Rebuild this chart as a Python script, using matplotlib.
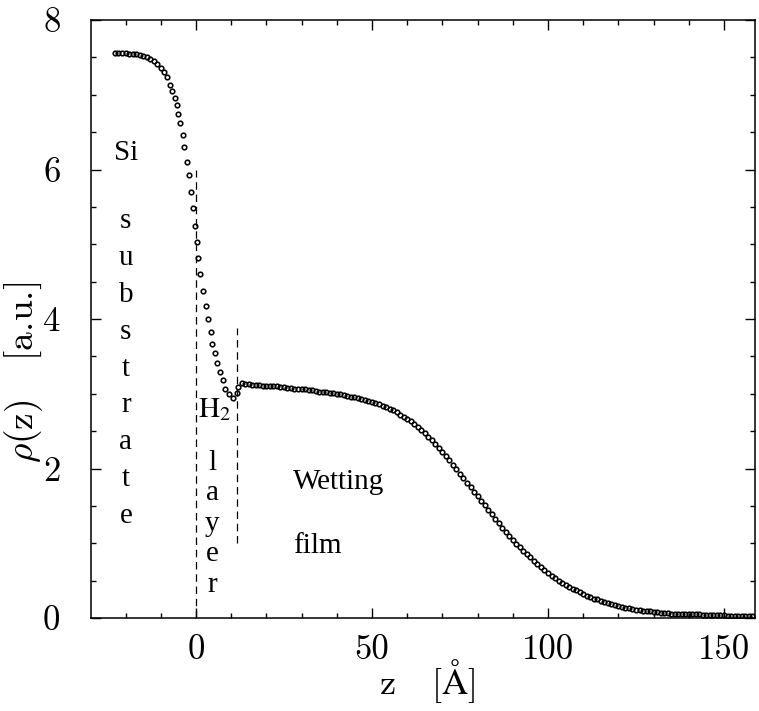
import matplotlib
matplotlib.use("Agg")
import matplotlib.pyplot as plt
from matplotlib.ticker import MultipleLocator

plt.rcParams['font.family'] = 'cmr10'
plt.rcParams['axes.unicode_minus'] = False
plt.rcParams['mathtext.fontset'] = 'cm'

# density profile rho(z): Si substrate plateau
z_si = [-23, -22, -21, -20, -19, -18, -17, -16, -15, -14, -13, -12, -11, -10, -9]
rho_si = [7.56, 7.56, 7.56, 7.56, 7.55, 7.55, 7.54, 7.53, 7.52, 7.50, 7.48, 7.45, 7.41, 7.36, 7.30]

# steep drop through the interface and the first H2 layer
z_h2 = [-8.2, -7.4, -6.9, -6.0, -5.5, -5.2, -4.5, -3.8, -3.3, -2.6, -2.0, -1.4, -0.9, -0.3,
        0.4, 0.7, 1.3, 2.1, 2.8, 3.5, 4.2, 4.7, 5.4, 6.0, 6.8, 7.6, 8.4, 9.5, 10.6, 11.6, 12.0, 13.0]
rho_h2 = [7.24, 7.13, 7.05, 6.96, 6.86, 6.74, 6.62, 6.46, 6.30, 6.10, 5.92, 5.70, 5.49, 5.25,
          5.03, 4.81, 4.60, 4.38, 4.18, 4.00, 3.83, 3.67, 3.54, 3.41, 3.29, 3.18, 3.07, 2.99, 2.94, 3.01, 3.09, 3.14]

# wetting film, one point per Angstrom from 14 to 158
z_film = list(range(14, 159))
rho_film = [
    3.13, 3.13, 3.12, 3.12, 3.12, 3.11, 3.11, 3.11, 3.10, 3.10,
    3.09, 3.09, 3.08, 3.08, 3.07, 3.07, 3.06, 3.06, 3.05, 3.05,
    3.04, 3.03, 3.03, 3.02, 3.01, 3.01, 3.00, 2.99, 2.98, 2.97,
    2.96, 2.95, 2.94, 2.93, 2.92, 2.90, 2.89, 2.87, 2.86, 2.84,
    2.82, 2.80, 2.78, 2.75, 2.72, 2.69, 2.66, 2.63, 2.59, 2.55,
    2.51, 2.47, 2.42, 2.38, 2.33, 2.28, 2.22, 2.17, 2.11, 2.05,
    1.99, 1.93, 1.87, 1.81, 1.75, 1.69, 1.63, 1.57, 1.51, 1.45,
    1.39, 1.33, 1.27, 1.21, 1.15, 1.10, 1.05, 0.99, 0.95, 0.90,
    0.85, 0.81, 0.76, 0.72, 0.68, 0.64, 0.60, 0.56, 0.53, 0.50,
    0.47, 0.44, 0.42, 0.39, 0.37, 0.35, 0.32, 0.30, 0.28, 0.26,
    0.25, 0.23, 0.22, 0.20, 0.19, 0.18, 0.16, 0.15, 0.14, 0.13,
    0.12, 0.11, 0.11, 0.10, 0.09, 0.09, 0.08, 0.08, 0.07, 0.07,
    0.07, 0.06, 0.06, 0.06, 0.06, 0.05, 0.05, 0.05, 0.05, 0.05,
    0.04, 0.04, 0.04, 0.04, 0.04, 0.04, 0.04, 0.03, 0.03, 0.03,
    0.03, 0.03, 0.03, 0.03, 0.03,
]

# dashed lines bounding the first H2 layer
layer_z = [0.0, 11.8]
layer_bottom = [0.0, 1.0]
layer_top = [6.0, 3.88]

z = z_si + z_h2 + z_film
rho = rho_si + rho_h2 + rho_film

fig = plt.figure(figsize=(7.59, 7.11), dpi=100)
ax = fig.add_axes([91 / 759, 93 / 711, 664 / 759, 598 / 711])

ax.plot(z, rho, ls='none', marker='o', ms=3.3, mew=1.15, mfc='none', mec='black')
ax.vlines(layer_z, layer_bottom, layer_top, colors='black', lw=0.9,
          linestyles=[(0, (6, 3.8))])

ax.set_xlim(-29.8, 158.8)
ax.set_ylim(0, 8)
ax.set_xticks([0, 50, 100, 150])
ax.set_yticks([0, 2, 4, 6, 8])
ax.xaxis.set_minor_locator(MultipleLocator(10))
ax.yaxis.set_minor_locator(MultipleLocator(0.5))
ax.tick_params(which='both', direction='in', top=True, right=True, width=1.0)
ax.tick_params(which='major', length=7.5, labelsize=25)
ax.tick_params(which='minor', length=3.8)
ax.tick_params(axis='x', pad=12)
ax.tick_params(axis='y', pad=22)
for s in ax.spines.values():
    s.set_linewidth(1.1)

ax.set_xlabel(r'z   [$\mathrm{\AA}$]', fontsize=26)
ax.set_ylabel(r'$\rho(\mathrm{z})$   [a.u.]', fontsize=27)
ax.xaxis.set_label_coords(0.506, -0.066)
ax.yaxis.set_label_coords(-0.07, 0.41)

tfont = dict(family='Liberation Serif', fontsize=21, color='black')
ax.text(-19.9, 6.13, 'Si', ha='center', va='baseline', **tfont)
for i, ch in enumerate('substrate'):
    ax.text(-19.9, 5.22 - 0.494 * i, ch, ha='center', va='baseline', **tfont)
ax.text(0.5, 2.69, r'$\mathrm{H}_2$', ha='left', va='baseline', math_fontfamily='stix', **tfont)
for i, ch in enumerate('layer'):
    ax.text(4.6, 1.98 - 0.407 * i, ch, ha='center', va='baseline', **tfont)
ax.text(27.6, 1.73, 'Wetting', ha='left', va='baseline', **tfont)
ax.text(27.6, 0.87, 'film', ha='left', va='baseline', **tfont)

fig.savefig('out.png', dpi=100)
